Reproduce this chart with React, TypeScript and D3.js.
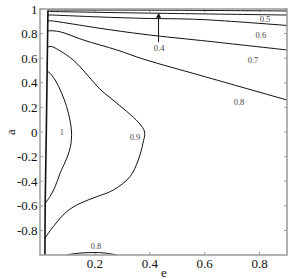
import * as d3 from "d3";

const W = 288;
const H = 279;
const left = 40, right = 287, top = 9, bottom = 255;

const eTicks = [0.2, 0.4, 0.6, 0.8];
const aTicks = [1, 0.8, 0.6, 0.4, 0.2, 0, -0.2, -0.4, -0.6, -0.8];

type P = [number, number];

// contour lines, points are [e, a]
const edge: P[] = [[0.018, -1], [0.019, -0.58], [0.023, 0], [0.026, 0.5], [0.029, 0.99]];
const c1: P[] = [[0.028, 0.49], [0.033, 0.485], [0.055, 0.423], [0.079, 0.315], [0.097, 0.206], [0.109, 0.098], [0.115, 0.0], [0.111, -0.119], [0.099, -0.205], [0.073, -0.336], [0.055, -0.445], [0.036, -0.526], [0.019, -0.58]];
const c09: P[] = [[0.028, 0.69], [0.04, 0.696], [0.055, 0.683], [0.121, 0.585], [0.222, 0.341], [0.266, 0.26], [0.36, 0.075], [0.381, 0.0], [0.375, -0.092], [0.358, -0.228], [0.328, -0.363], [0.267, -0.472], [0.207, -0.526], [0.146, -0.58], [0.097, -0.648], [0.048, -0.77], [0.018, -0.864]];
const c08: P[] = [[0.028, 0.822], [0.04, 0.823], [0.073, 0.815], [0.158, 0.748], [0.28, 0.667], [0.379, 0.591], [0.583, 0.461], [0.9, 0.26]];
const c07: P[] = [[0.028, 0.903], [0.04, 0.904], [0.073, 0.894], [0.219, 0.843], [0.379, 0.794], [0.62, 0.736], [0.9, 0.667]];
const c06: P[] = [[0.029, 0.951], [0.04, 0.951], [0.219, 0.935], [0.379, 0.924], [0.583, 0.915], [0.9, 0.866]];
const c05: P[] = [[0.029, 0.98], [0.379, 0.967], [0.9, 0.951]];
const c04: P[] = [[0.029, 0.992], [0.45, 0.99], [0.9, 0.984]];
const c08b: P[] = [[0.097, -1], [0.128, -0.988], [0.194, -0.98], [0.237, -0.984], [0.28, -1]];

const contours = [edge, c1, c09, c08, c07, c06, c05, c04, c08b];

const labelText = ["1", "0.9", "0.8", "0.7", "0.6", "0.5", "0.4", "0.8"];
const labelAt: P[] = [[0.08, 0.0], [0.346, -0.04], [0.725, 0.244], [0.776, 0.585], [0.805, 0.789], [0.82, 0.919], [0.434, 0.683], [0.204, -0.927]];

const arrowFrom: P = [0.432, 0.73];
const arrowTo: P = [0.432, 0.97];

export default function App() {
  const x = d3.scaleLinear().domain([0, 0.9]).range([left, right]);
  const y = d3.scaleLinear().domain([-1, 1]).range([bottom, top]);
  const line = d3
    .line<P>()
    .x((d) => x(d[0]))
    .y((d) => y(d[1]))
    .curve(d3.curveCatmullRom.alpha(0.5));

  const font = "Liberation Serif, Times New Roman, Liberation Sans, Arial, sans-serif";
  const frame = "#9a9a9a";

  return (
    <div style={{ position: "absolute", left: 0, top: 0, background: "#fff" }}>
      <svg width={W} height={H} style={{ display: "block", fontFamily: font }}>
        <rect width={W} height={H} fill="#fff" />
        <defs>
          <clipPath id="plot">
            <rect x={left} y={top} width={right - left} height={bottom - top} />
          </clipPath>
        </defs>

        {/* ticks */}
        {aTicks.map((t) => (
          <g key={"a" + t} stroke={frame} strokeWidth={1}>
            <line x1={left} x2={left + 3} y1={y(t)} y2={y(t)} />
            <line x1={right} x2={right - 3} y1={y(t)} y2={y(t)} />
          </g>
        ))}
        {eTicks.map((t) => (
          <g key={"e" + t} stroke={frame} strokeWidth={1}>
            <line x1={x(t)} x2={x(t)} y1={bottom} y2={bottom - 3} />
            <line x1={x(t)} x2={x(t)} y1={top} y2={top + 3} />
          </g>
        ))}

        <g clipPath="url(#plot)" fill="none" stroke="#111">
          {contours.map((c, i) => (
            <path key={i} d={line(c) ?? ""} strokeWidth={i === 0 ? 1.6 : 1} />
          ))}
        </g>

        <rect x={left} y={top} width={right - left} height={bottom - top} fill="none" stroke={frame} strokeWidth={1.5} />

        {/* arrow */}
        <line x1={x(arrowFrom[0])} x2={x(arrowTo[0])} y1={y(arrowFrom[1])} y2={y(arrowTo[1]) + 3} stroke="#111" strokeWidth={1} />
        <path d={`M${x(arrowTo[0])},${y(arrowTo[1])} l-2.5,5 l5,0 z`} fill="#111" />

        {labelText.map((s, i) => (
          <text
            key={i}
            x={x(labelAt[i][0])}
            y={y(labelAt[i][1])}
            textAnchor="middle"
            dominantBaseline="central"
            fontSize={s === "1" ? 7.5 : 8.5}
            fill="#444"
          >
            {s}
          </text>
        ))}

        {aTicks.map((t) => (
          <text key={"al" + t} x={37.5} y={y(t)} textAnchor="end" dominantBaseline="central" fontSize={13} fill="#111">
            {String(t)}
          </text>
        ))}
        {eTicks.map((t) => (
          <text key={"el" + t} x={x(t)} y={268} textAnchor="middle" fontSize={13} fill="#111">
            {String(t)}
          </text>
        ))}

        <text x={164} y={277} textAnchor="middle" fontSize={13} fill="#111">e</text>
        <text transform="translate(10,132) rotate(-90)" textAnchor="middle" dominantBaseline="central" fontSize={13} fill="#111">a</text>
      </svg>
    </div>
  );
}
